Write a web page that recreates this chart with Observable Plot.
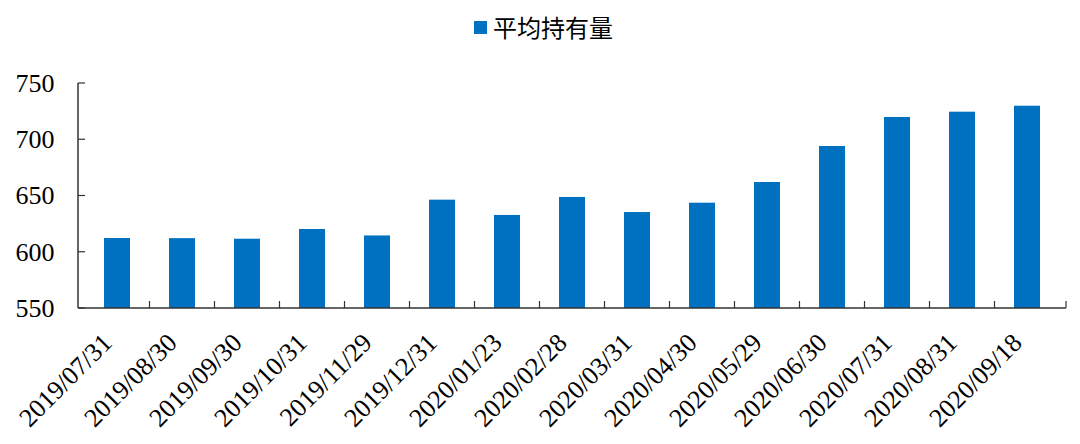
<!DOCTYPE html>
<html>
<head>
<meta charset="utf-8">
<script src="https://cdn.jsdelivr.net/npm/d3@7"></script>
<script src="https://cdn.jsdelivr.net/npm/@observablehq/plot@0.6"></script>
<style>
  html, body { margin: 0; padding: 0; background: #fff; }
  #legend { height: 60px; position: relative; font-family: "Noto Sans CJK SC", sans-serif; }
  #legend .sw { position: absolute; left: 474px; top: 21px; width: 13px; height: 13px; background: #0070C0; }
  #legend .lb { position: absolute; left: 493px; top: 10px; font-size: 24px; line-height: 34px; color: #000; }
  svg { display: block; }
  #chart svg, #chart svg text, #chart svg g { font-family: "Liberation Serif", Tinos, "Times New Roman", "DejaVu Serif", serif !important; }
</style>
</head>
<body>
<div id="legend"><div class="sw"></div><div class="lb">平均持有量</div></div>
<div id="chart"></div>
<script>
const dates = ["2019/07/31","2019/08/30","2019/09/30","2019/10/31","2019/11/29","2019/12/31","2020/01/23","2020/02/28","2020/03/31","2020/04/30","2020/05/29","2020/06/30","2020/07/31","2020/08/31","2020/09/18"];
const values = [612.2, 612.1, 611.6, 620.2, 614.5, 646.3, 632.7, 648.7, 635.3, 643.6, 662.0, 694.0, 719.8, 724.5, 729.8];
const yTicks = [550, 600, 650, 700, 750];
const seriesName = "平均持有量";

const data = dates.map((d, i) => ({date: d, value: values[i]}));
const axisColor = "#333";
const serif = "'Liberation Serif', Tinos, 'DejaVu Serif', serif";

function frameMark(index, scales, values_, dims) {
  const x = scales.x, y = scales.y;
  const g = d3.create("svg:g");
  const x0 = dims.marginLeft, x1 = dims.width - dims.marginRight;
  const yb = y(550), yt = y(750);
  const bw = x.bandwidth();
  const bounds = [];
  for (let i = 0; i < dates.length - 1; i++) bounds.push((x(dates[i]) + bw + x(dates[i + 1])) / 2);
  bounds.push(x1);
  g.append("line").attr("x1", x0).attr("x2", x0).attr("y1", yt).attr("y2", yb).attr("stroke", axisColor).attr("stroke-width", 1.5);
  g.append("line").attr("x1", x0).attr("x2", x1).attr("y1", yb).attr("y2", yb).attr("stroke", axisColor).attr("stroke-width", 1.5);
  for (const bx of bounds) g.append("line").attr("x1", bx).attr("x2", bx).attr("y1", yb).attr("y2", yb - 7).attr("stroke", axisColor).attr("stroke-width", 1.2);
  for (const t of yTicks) g.append("line").attr("x1", x0).attr("x2", x0 + 7).attr("y1", y(t)).attr("y2", y(t)).attr("stroke", axisColor).attr("stroke-width", 1.2);
  return g.node();
}

const plot = Plot.plot({
  width: 1080,
  height: 384,
  marginLeft: 78,
  marginRight: 14,
  marginTop: 23,
  marginBottom: 136,
  style: {fontFamily: serif, fontSize: "26px", color: "#000", background: "#fff"},
  x: {domain: dates, paddingInner: 0.6, paddingOuter: 0.3, align: 0.5},
  y: {domain: [550, 750]},
  marks: [
    Plot.barY(data, {x: "date", y1: 550, y2: "value", fill: "#0070C0"}),
    Plot.axisY({ticks: yTicks, tickSize: 0, tickPadding: 24, fontSize: 26, fontFamily: serif, fill: "#000", label: null}),
    Plot.axisX({tickSize: 0, tickRotate: -45, tickPadding: 30, dx: -10, fontSize: 26, fontFamily: serif, fill: "#000", label: null}),
    frameMark
  ]
});
document.getElementById("chart").appendChild(plot);
</script>
</body>
</html>
